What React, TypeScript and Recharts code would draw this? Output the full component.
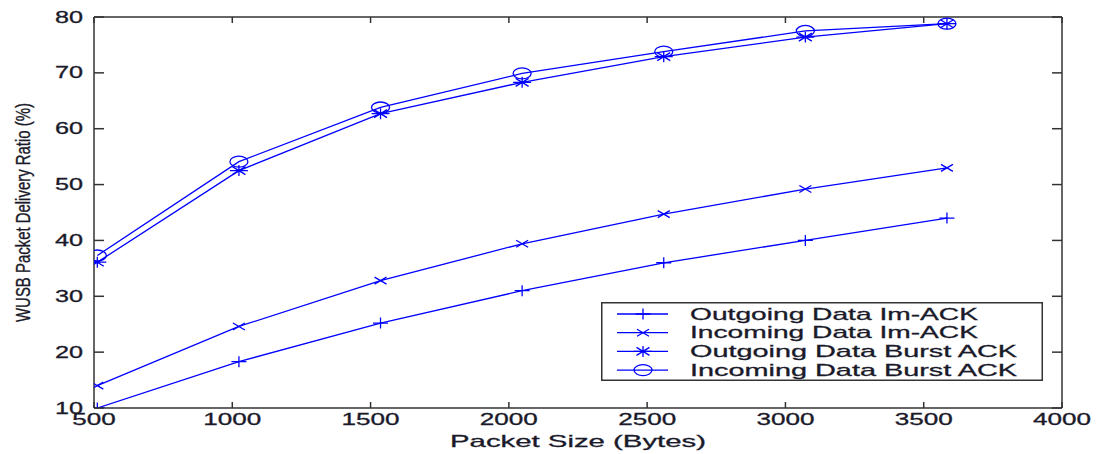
import { Legend, Line, LineChart, XAxis, YAxis } from 'recharts';

const packetSizes = [512, 1024, 1536, 2048, 2560, 3072, 3584];
const outgoingImAck = [10.0, 18.3, 25.2, 31.0, 36.0, 40.0, 44.0];
const incomingImAck = [14.0, 24.6, 32.8, 39.4, 44.7, 49.2, 53.0];
const outgoingBurstAck = [36.1, 52.5, 62.7, 68.3, 72.9, 76.4, 78.8];
const incomingBurstAck = [37.3, 54.1, 63.8, 69.9, 73.8, 77.5, 78.8];

const xTicks = [500, 1000, 1500, 2000, 2500, 3000, 3500, 4000];
const yTicks = [10, 20, 30, 40, 50, 60, 70, 80];

const seriesNames = [
  'Outgoing Data Im-ACK',
  'Incoming Data Im-ACK',
  'Outgoing Data Burst ACK',
  'Incoming Data Burst ACK',
];
const seriesKeys = ['outIm', 'inIm', 'outBurst', 'inBurst'];
const markers = ['plus', 'cross', 'star', 'circle'];

const data = packetSizes.map((size, i) => ({
  size,
  outIm: outgoingImAck[i],
  inIm: incomingImAck[i],
  outBurst: outgoingBurstAck[i],
  inBurst: incomingBurstAck[i],
}));

const BLUE = '#0000ff';
const INK = '#1a1a2a';
const AXIS = '#333';
const FONT = '"Liberation Sans", Arial, sans-serif';

function markerPath(kind: string, cx: number, cy: number) {
  const plus = `M${cx - 7.5},${cy}H${cx + 7.5}M${cx},${cy - 5.5}V${cy + 5.5}`;
  const cross = `M${cx - 6},${cy - 3.5}L${cx + 6},${cy + 3.5}M${cx - 6},${cy + 3.5}L${cx + 6},${cy - 3.5}`;
  if (kind === 'plus') return <path d={plus} />;
  if (kind === 'cross') return <path d={cross} />;
  if (kind === 'star')
    return (
      <path
        d={`M${cx - 9},${cy}H${cx + 9}M${cx},${cy - 5.5}V${cy + 5.5}M${cx - 6.5},${cy - 4}L${cx + 6.5},${cy + 4}M${cx - 6.5},${cy + 4}L${cx + 6.5},${cy - 4}`}
      />
    );
  return <ellipse cx={cx} cy={cy} rx={9} ry={5.5} />;
}

function makeDot(kind: string) {
  // eslint-disable-next-line @typescript-eslint/no-explicit-any
  return (props: any) => {
    const { cx, cy, index } = props;
    if (cx == null || cy == null) return <g key={index} />;
    return (
      <g key={index} stroke={BLUE} strokeWidth={1.3} fill="none">
        {markerPath(kind, cx, cy)}
      </g>
    );
  };
}

// eslint-disable-next-line @typescript-eslint/no-explicit-any
function XTick(props: any) {
  const { x, y, payload } = props;
  const label = String(payload.value);
  return (
    <g>
      <line x1={x} x2={x} y1={y} y2={y - 6} stroke={AXIS} strokeWidth={1.5} />
      <text
        x={x}
        y={y + 17}
        textAnchor="middle"
        fontSize={16}
        fontFamily={FONT}
        fill={INK}
        stroke={INK}
        strokeWidth={0.3}
        textLength={label.length * 14.5}
        lengthAdjust="spacingAndGlyphs"
      >
        {label}
      </text>
    </g>
  );
}

// eslint-disable-next-line @typescript-eslint/no-explicit-any
function YTick(props: any) {
  const { x, y, payload } = props;
  const label = String(payload.value);
  return (
    <g>
      <line x1={x} x2={x + 10} y1={y} y2={y} stroke={AXIS} strokeWidth={1.5} />
      <text
        x={x - 11}
        y={y + 5.5}
        textAnchor="end"
        fontSize={16}
        fontFamily={FONT}
        fill={INK}
        stroke={INK}
        strokeWidth={0.3}
        textLength={label.length * 14}
        lengthAdjust="spacingAndGlyphs"
      >
        {label}
      </text>
    </g>
  );
}

// eslint-disable-next-line @typescript-eslint/no-explicit-any
function XLabel(props: any) {
  const vb = props.viewBox;
  return (
    <text
      x={vb.x + vb.width / 2}
      y={vb.y + 39}
      textAnchor="middle"
      fontSize={17}
      fontFamily={FONT}
      fill={INK}
      stroke={INK}
      strokeWidth={0.3}
      textLength={256}
      lengthAdjust="spacingAndGlyphs"
    >
      Packet Size (Bytes)
    </text>
  );
}

// eslint-disable-next-line @typescript-eslint/no-explicit-any
function YLabel(props: any) {
  const vb = props.viewBox;
  const cx = vb.x + 22;
  const cy = vb.y + vb.height / 2;
  return (
    <text
      transform={`translate(${cx},${cy}) rotate(-90) scale(1,1.4)`}
      x={0}
      y={0}
      textAnchor="middle"
      fontSize={14}
      fontFamily={FONT}
      fill={INK}
      stroke={INK}
      strokeWidth={0.25}
      textLength={219}
      lengthAdjust="spacingAndGlyphs"
    >
      WUSB Packet Delivery Ratio (%)
    </text>
  );
}

function LegendBox() {
  const textWidths = [288, 288, 327, 327];
  return (
    <svg width={442} height={79} style={{ display: 'block' }}>
      <rect x={0.75} y={0.75} width={440.5} height={77.5} fill="#fff" stroke={AXIS} strokeWidth={1.5} />
      {seriesNames.map((name, i) => {
        const ly = 12 + i * 18.7;
        return (
          <g key={name}>
            <line x1={16} x2={67} y1={ly} y2={ly} stroke={BLUE} strokeWidth={1.3} />
            <g stroke={BLUE} strokeWidth={1.3} fill="none">
              {markerPath(markers[i], 42, ly)}
            </g>
            <text
              x={89}
              y={ly + 5.5}
              fontSize={17}
              fontFamily={FONT}
              fill={INK}
              stroke={INK}
              strokeWidth={0.3}
              textLength={textWidths[i]}
              lengthAdjust="spacingAndGlyphs"
            >
              {name}
            </text>
          </g>
        );
      })}
    </svg>
  );
}

export default function App() {
  return (
    <div style={{ position: 'relative', width: 1095, height: 446 }}>
      <LineChart width={1095} height={446} data={data} margin={{ top: 9, right: 41, bottom: 0, left: 0 }}>
        <XAxis
          dataKey="size"
          type="number"
          domain={[500, 4000]}
          ticks={xTicks}
          allowDataOverflow
          height={46}
          tickSize={0}
          tickMargin={0}
          tickLine={false}
          tick={<XTick />}
          axisLine={{ stroke: AXIS, strokeWidth: 1.5 }}
          label={XLabel}
        />
        <XAxis
          xAxisId="top"
          dataKey="size"
          type="number"
          orientation="top"
          mirror
          domain={[500, 4000]}
          ticks={xTicks}
          allowDataOverflow
          tickSize={6}
          tickFormatter={() => ''}
          tickLine={{ stroke: AXIS, strokeWidth: 1.5 }}
          axisLine={{ stroke: AXIS, strokeWidth: 1.5 }}
        />
        <YAxis
          type="number"
          domain={[10, 80]}
          ticks={yTicks}
          allowDataOverflow
          width={86}
          tickSize={0}
          tickMargin={0}
          tickLine={false}
          tick={<YTick />}
          axisLine={{ stroke: AXIS, strokeWidth: 1.5 }}
          label={YLabel}
        />
        <YAxis
          yAxisId="right"
          type="number"
          orientation="right"
          mirror
          domain={[10, 80]}
          ticks={yTicks}
          allowDataOverflow
          tickSize={10}
          tickFormatter={() => ''}
          tickLine={{ stroke: AXIS, strokeWidth: 1.5 }}
          axisLine={{ stroke: AXIS, strokeWidth: 1.5 }}
        />
        {seriesKeys.map((key, i) => (
          <Line
            key={key}
            dataKey={key}
            name={seriesNames[i]}
            type="linear"
            stroke={BLUE}
            strokeWidth={1.3}
            dot={makeDot(markers[i])}
            activeDot={false}
            isAnimationActive={false}
          />
        ))}
        <Legend
          layout="vertical"
          align="center"
          verticalAlign="middle"
          content={<LegendBox />}
          wrapperStyle={{ position: 'absolute', left: 593, top: 294, width: 442, height: 79 }}
        />
      </LineChart>
    </div>
  );
}
